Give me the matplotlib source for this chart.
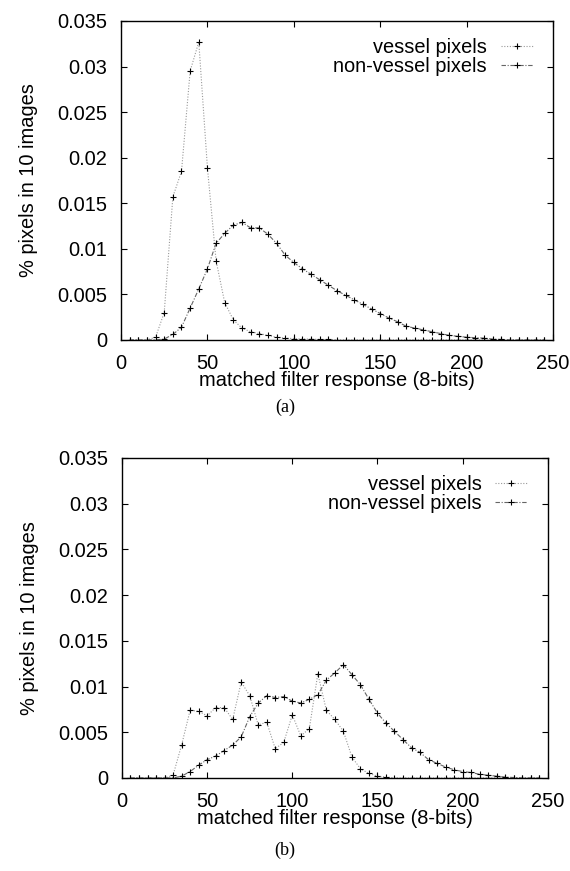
import matplotlib
matplotlib.use("Agg")
import matplotlib.pyplot as plt

plt.rcParams['font.family'] = ['Liberation Sans', 'DejaVu Sans']

# bin centres of the 8-bit matched filter response
x = [5, 10, 15, 20, 25, 30, 35, 40, 45, 50, 55, 60, 65, 70, 75, 80, 85, 90, 95, 100,
     105, 110, 115, 120, 125, 130, 135, 140, 145, 150, 155, 160, 165, 170, 175, 180,
     185, 190, 195, 200, 205, 210, 215, 220, 225, 230, 235, 240, 245]

# (a)
vessel_a = [0, 0, 0, 0.0003, 0.0030, 0.0157, 0.0185, 0.0295, 0.0327, 0.0189, 0.0087,
            0.0041, 0.0022, 0.0013, 0.0009, 0.0007, 0.0005, 0.0003, 0.0002, 0.00015,
            0.0001, 0.0001, 0.00005, 0.00005, 0, 0, 0, 0, 0, 0, 0, 0, 0, 0, 0, 0,
            0, 0, 0, 0, 0, 0, 0, 0, 0, 0, 0, 0, 0]
nonvessel_a = [0, 0, 0, 0, 0.0001, 0.0006, 0.0014, 0.0035, 0.0056, 0.0078, 0.0106,
               0.0117, 0.0126, 0.0129, 0.0123, 0.0123, 0.0116, 0.0106, 0.0093, 0.0085,
               0.0078, 0.0072, 0.0066, 0.0060, 0.0054, 0.0049, 0.0044, 0.0039, 0.0034,
               0.0029, 0.0024, 0.0020, 0.0015, 0.0013, 0.0011, 0.0009, 0.0007, 0.0005,
               0.0004, 0.0003, 0.00025, 0.0002, 0.0001, 0.00005, 0, 0, 0, 0, 0]

# (b)
vessel_b = [0, 0, 0, 0, 0, 0.0003, 0.0036, 0.0074, 0.0073, 0.0068, 0.0077, 0.0077,
            0.0064, 0.0105, 0.0090, 0.0058, 0.0061, 0.0032, 0.0039, 0.0069, 0.0046,
            0.0054, 0.0114, 0.0074, 0.0064, 0.0051, 0.0023, 0.0010, 0.0005, 0.0002,
            0.0001, 0, 0, 0, 0, 0, 0, 0, 0, 0, 0, 0, 0, 0, 0, 0, 0, 0, 0]
nonvessel_b = [0, 0, 0, 0, 0, 0, 0.0002, 0.0007, 0.0014, 0.0020, 0.0024, 0.0030,
               0.0036, 0.0045, 0.0067, 0.0082, 0.0090, 0.0088, 0.0089, 0.0084, 0.0082,
               0.0086, 0.0091, 0.0107, 0.0115, 0.0124, 0.0113, 0.0102, 0.0086, 0.0071,
               0.0060, 0.0051, 0.0042, 0.0033, 0.0028, 0.0020, 0.0016, 0.0012, 0.0009,
               0.0007, 0.0006, 0.0004, 0.0003, 0.0002, 0.0001, 0.00005, 0, 0, 0]

xticks = [0, 50, 100, 150, 200, 250]
yticks = [0, 0.005, 0.01, 0.015, 0.02, 0.025, 0.03, 0.035]
ytick_labels = ["0", "0.005", "0.01", "0.015", "0.02", "0.025", "0.03", "0.035"]

fs = 14.4
fig = plt.figure(figsize=(5.7, 8.71), dpi=100)

def panel(rect, vessel, nonvessel, caption, cap_y):
    ax = fig.add_axes(rect)
    ax.plot(x, vessel, color="#999999", lw=0.8, ls=(0, (1, 1.5)),
            marker="+", ms=4, mec="black", mew=0.8, label="vessel pixels")
    ax.plot(x, nonvessel, color="#666666", lw=0.8, ls=(0, (4, 1.5, 1, 1.5)),
            marker="+", ms=4, mec="black", mew=0.8, label="non-vessel pixels")
    ax.set_xlim(0, 250)
    ax.set_ylim(0, 0.035)
    ax.set_xticks(xticks)
    ax.set_yticks(yticks)
    ax.set_yticklabels(ytick_labels)
    ax.tick_params(direction="in", length=4, width=0.8, top=True, right=True,
                   labelsize=fs)
    ax.tick_params(axis="x", pad=10)
    ax.tick_params(axis="y", pad=10)
    for s in ax.spines.values():
        s.set_linewidth(1.0)
    ax.set_xlabel("matched filter response (8-bits)", fontsize=fs, labelpad=-1)
    ax.set_ylabel("% pixels in 10 images", fontsize=fs, labelpad=14)
    ax.legend(loc="upper right", markerfirst=False, frameon=False, fontsize=fs,
              numpoints=1, handlelength=1.6, labelspacing=0.0, handletextpad=0.7,
              bbox_to_anchor=(0.985, 0.99), borderaxespad=0.3)
    fig.text(0.5, cap_y, caption, ha="center", va="center",
             family="Liberation Serif", fontsize=13)
    return ax

panel([0.2123, 0.6097, 0.758, 0.3662], vessel_a, nonvessel_a, "(a)", 1 - 407 / 871)
panel([0.2140, 0.1068, 0.747, 0.3674], vessel_b, nonvessel_b, "(b)", 1 - 850 / 871)

fig.savefig("out.png", dpi=100)
